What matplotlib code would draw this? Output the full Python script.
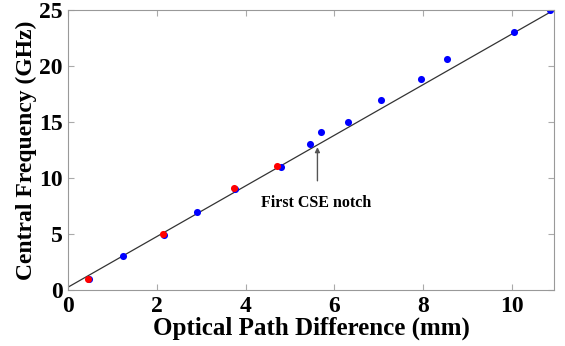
import numpy as np
import matplotlib
matplotlib.use('Agg')
import matplotlib.pyplot as plt

# data
red_x = [0.45, 2.15, 3.75, 4.7]
red_y = [1.0, 5.0, 9.1, 11.1]
blue_x = [0.48, 1.25, 2.17, 2.9, 3.77, 4.8, 5.45, 5.7, 6.3, 7.05, 7.95, 8.55, 10.05, 10.85]
blue_y = [0.95, 3.0, 4.95, 7.0, 9.05, 11.0, 13.0, 14.1, 15.0, 17.0, 18.8, 20.6, 23.0, 25.0]
fit_x = [0.0, 10.95]
fit_y = [0.25, 25.0]

plt.rcParams['font.family'] = ['Liberation Serif', 'DejaVu Serif']
plt.rcParams['font.weight'] = 'bold'

fig = plt.figure(figsize=(5.65, 3.46), dpi=100)
ax = fig.add_axes([68/565, 1 - 290/346, (554-68)/565, (290-10)/346])

ax.plot(fit_x, fit_y, color='#333333', lw=0.9, zorder=1)
ax.scatter(blue_x, blue_y, s=26, color='#0000ff', zorder=2, linewidths=0)
ax.scatter(red_x, red_y, s=26, color='#ff0000', zorder=3, linewidths=0)

# annotation for the notch
ax.annotate('', xy=(5.62, 13.0), xytext=(5.62, 9.5),
            arrowprops=dict(arrowstyle='-|>', color='#555555', lw=1.0, mutation_scale=7))
ax.text(5.6, 7.8, 'First CSE notch', ha='center', va='center', fontsize=11.5, fontweight='bold')

ax.set_xlim(0, 10.95)
ax.set_ylim(0, 25)
ax.set_xticks([0, 2, 4, 6, 8, 10])
ax.set_yticks([0, 5, 10, 15, 20, 25])
ax.tick_params(direction='in', top=True, right=True, length=4, color='#aaaaaa',
               labelsize=17)
ax.tick_params(axis='x', pad=4)
ax.tick_params(axis='y', pad=4)
for lab in ax.get_xticklabels() + ax.get_yticklabels():
    lab.set_fontweight('bold')
for sp in ax.spines.values():
    sp.set_color('#999999')
    sp.set_linewidth(0.8)

ax.set_xlabel('Optical Path Difference (mm)', fontsize=18, fontweight='bold', labelpad=0)
ax.set_ylabel('Central Frequency (GHz)', fontsize=17, fontweight='bold', labelpad=1)

fig.savefig('out.png', dpi=100)
